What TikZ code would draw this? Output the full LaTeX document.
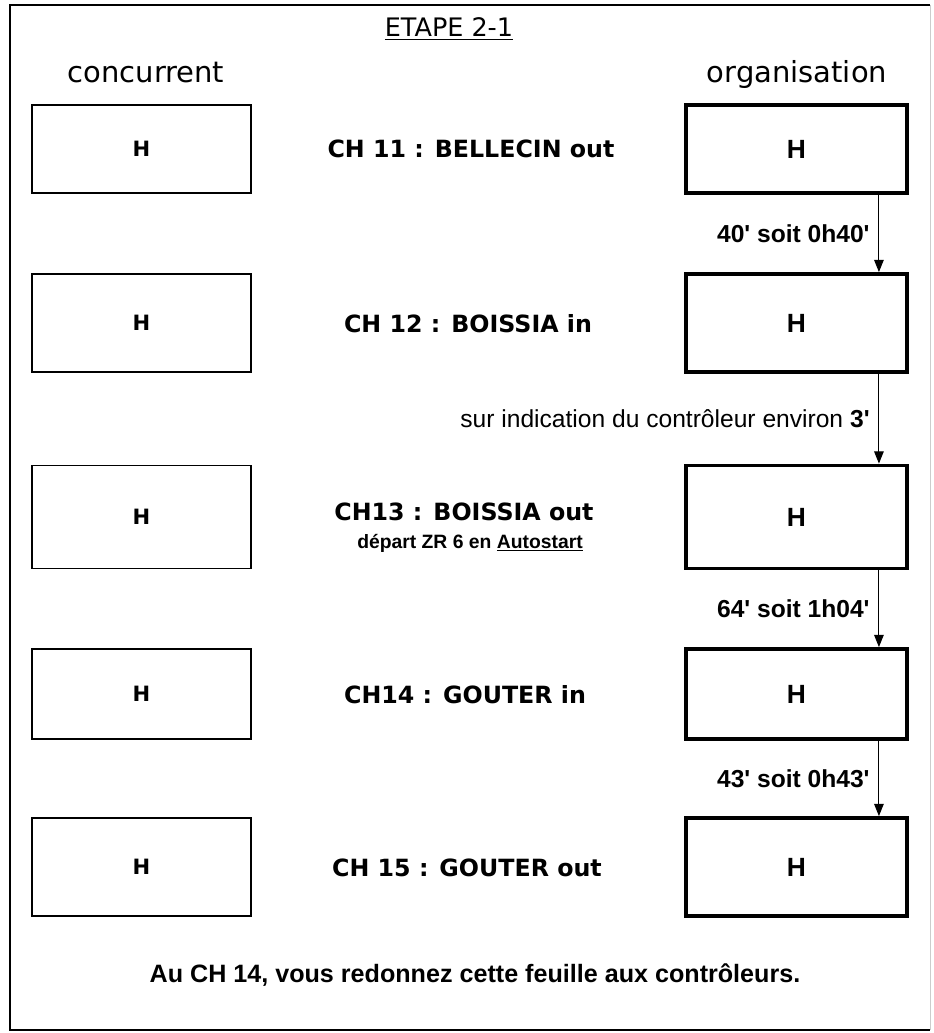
\documentclass[tikz,border=0pt]{standalone}
\usepackage{fontspec}
\setmainfont{Liberation Sans}
\newfontfamily\comicfont{DejaVu Sans}
\usetikzlibrary{arrows.meta}
\newcommand\tq{\textquotesingle}
\tikzset{
	frame/.style={line width=1.6pt},
	cbox/.style={draw,line width=1.1pt,minimum width=4.38cm,inner sep=0pt,
		font=\comicfont\bfseries\fontsize{12}{14}\selectfont},
	obox/.style={draw,line width=2.2pt,minimum width=4.42cm,inner sep=0pt,
		font=\bfseries\fontsize{15}{17}\selectfont},
	title/.style={font=\comicfont\fontsize{14.5}{17}\selectfont},
	colhead/.style={anchor=base,font=\comicfont\fontsize{16.5}{19}\selectfont},
	chlabel/.style={font=\comicfont\bfseries\fontsize{13.5}{15}\selectfont},
	note/.style={font=\bfseries\fontsize{11}{13}\selectfont},
	delay/.style={anchor=east,inner sep=5pt,font=\bfseries\fontsize{14}{16}\selectfont},
	flow/.style={line width=0.6pt,-{Triangle[length=7pt,width=5.5pt]}}
}
\begin{document}
\begin{tikzpicture}[x=0.02cm,y=-0.02cm]
	\useasboundingbox (0,0) rectangle (933,1033);
	\draw[frame] (930,5) -- (10,5) -- (10,1030) -- (930,1030);
	\draw[gray!40] (930,5) -- (930,1030);
	\node[title] (etape) at (449,29) {\underline{ETAPE 2-1}};
	\node[colhead] (conc) at (146,83) {concurrent};
	\node[colhead] (orga) at (797,83) {organisation};
	% timing boxes
	\foreach \i/\y/\h in {1/149/88,2/323/98,3/517/103,4/694/90,5/867/98}
	{
		\node[cbox,minimum height=\h*0.02cm] (c\i) at (141.5,\y) {H};
		\node[obox,minimum height=\h*0.02cm] (o\i) at (796.5,\y) {H};
	}
	\node[chlabel] (m1) at (471,149) {CH 11 : BELLECIN out};
	\node[chlabel] (m2) at (468,324) {CH 12 : BOISSIA in};
	\node[chlabel] (m3) at (464,512) {CH13 : BOISSIA out};
	\node[note] (auto) at (470,543) {départ ZR 6 en \underline{Autostart}};
	\node[chlabel] (m4) at (465,695) {CH14 : GOUTER in};
	\node[chlabel] (m5) at (467,868) {CH 15 : GOUTER out};
	% controls
	\foreach \a/\b/\t in {1/2/{40\tq{} soit 0h40\tq},
		2/3/{\mdseries sur indication du contrôleur environ \textbf{3\tq}},
		3/4/{64\tq{} soit 1h04\tq},4/5/{43\tq{} soit 0h43\tq}}
	{
		\draw[flow] ([xshift=-0.6cm]o\a.south east) -- node[delay] {\t} ([xshift=-0.6cm]o\b.north east);
	}
	\node[delay,anchor=center,font=\bfseries\fontsize{14.3}{16}\selectfont] (retour) at (475,975) {Au CH 14, vous redonnez cette feuille aux contrôleurs.};
\end{tikzpicture}
\end{document}
